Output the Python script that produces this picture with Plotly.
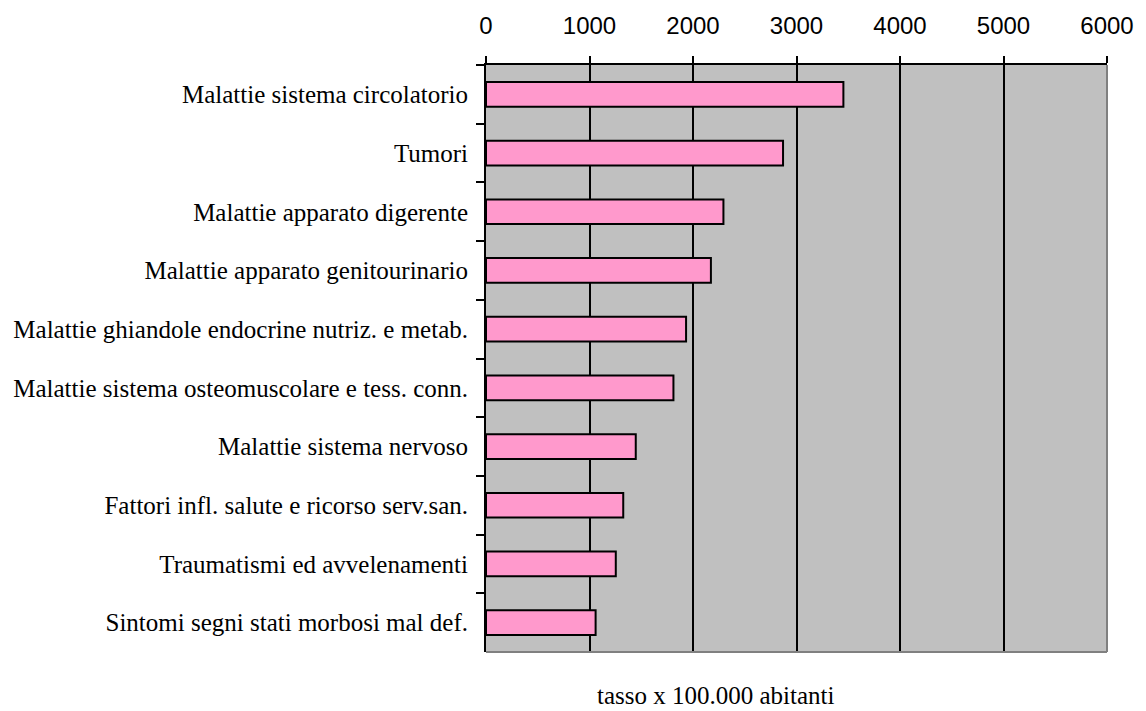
import plotly.graph_objects as go

categories = [
    "Malattie sistema circolatorio",
    "Tumori",
    "Malattie apparato digerente",
    "Malattie apparato genitourinario",
    "Malattie ghiandole endocrine nutriz. e metab.",
    "Malattie sistema osteomuscolare e tess. conn.",
    "Malattie sistema nervoso",
    "Fattori infl. salute e ricorso serv.san.",
    "Traumatismi ed avvelenamenti",
    "Sintomi segni stati morbosi mal def.",
]
values = [3453, 2870, 2294, 2173, 1933, 1811, 1447, 1326, 1254, 1059]
x_ticks = [0, 1000, 2000, 3000, 4000, 5000, 6000]
x_title = "tasso x 100.000 abitanti"

fig = go.Figure()
fig.add_trace(go.Bar(
    y=categories,
    x=values,
    orientation="h",
    width=0.42,
    marker=dict(color="#FF99CC", line=dict(color="black", width=2)),
    hoverinfo="x+y",
))

fig.update_layout(
    width=1146,
    height=711,
    margin=dict(l=486, r=35, t=57, b=59, pad=0),
    paper_bgcolor="white",
    plot_bgcolor="#C0C0C0",
    showlegend=False,
    xaxis=dict(
        side="top",
        range=[0, 6000],
        tickvals=x_ticks,
        ticktext=[str(v) for v in x_ticks],
        showgrid=True,
        gridcolor="black",
        gridwidth=2,
        zeroline=False,
        showline=True,
        linecolor="black",
        linewidth=2,
        ticks="outside",
        ticklen=7,
        tickwidth=2,
        tickcolor="black",
        ticklabelstandoff=12,
        tickfont=dict(family="Liberation Sans, Arial, sans-serif", size=24, color="black"),
    ),
    yaxis=dict(
        type="category",
        autorange="reversed",
        showgrid=False,
        zeroline=False,
        showline=True,
        linecolor="black",
        linewidth=2,
        ticks="outside",
        tickson="boundaries",
        ticklen=8,
        tickwidth=2,
        tickcolor="black",
        ticklabelstandoff=11,
        tickfont=dict(family="Liberation Serif, Times New Roman, serif", size=25, color="black"),
    ),
    shapes=[
        dict(type="line", xref="paper", yref="paper", x0=1, x1=1, y0=0, y1=1,
             line=dict(color="#808080", width=2)),
        dict(type="line", xref="paper", yref="paper", x0=0, x1=1, y0=0, y1=0,
             line=dict(color="#808080", width=2)),
    ],
    annotations=[
        dict(text=x_title, xref="paper", yref="paper", x=0.3696, y=-0.074,
             xanchor="center", yanchor="middle", showarrow=False,
             font=dict(family="Liberation Serif, Times New Roman, serif", size=25, color="black")),
    ],
)

fig.write_html("out.html", config={"displayModeBar": False},
               post_script="document.body.style.margin='0';")
